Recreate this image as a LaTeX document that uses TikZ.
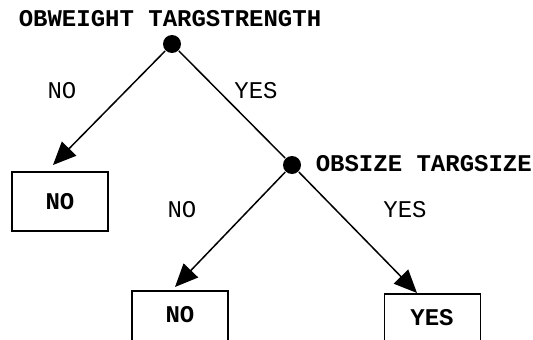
\documentclass[tikz,border=0pt]{standalone}
\usepackage{fontspec}
\setmonofont{Liberation Mono}
\usetikzlibrary{arrows.meta}

\begin{document}
\begin{tikzpicture}[x=1pt,y=-1pt,>={Triangle[length=23pt,width=20pt]},line width=1.5pt,
    font=\ttfamily\fontsize{24}{27}\selectfont,
    test/.style={circle,fill=black,inner sep=0pt,minimum size=18pt},
    leaf/.style={draw,line width=1.8pt,inner sep=0pt,minimum width=96pt,minimum height=59pt,font=\ttfamily\bfseries\fontsize{24}{27}\selectfont},
    answer/.style={inner sep=0pt}]
    \useasboundingbox (0,0) rectangle (533,340);
    \clip (0,0) rectangle (533,340);

    \node[test] (weight) at (172,44) {};
    \node[test] (size) at (292,165) {};
    \node[anchor=base,font=\ttfamily\bfseries\fontsize{24}{27}\selectfont] (weightlbl) at (170,27) {OBWEIGHT TARGSTRENGTH};
    \node[anchor=west,font=\ttfamily\bfseries\fontsize{24}{27}\selectfont,inner sep=0pt] (sizelbl) at (315,164) {OBSIZE TARGSIZE};

    \node[leaf] (no1) at (60,201.5) {NO};
    \node[leaf] (no2) at (180,320.5) {};
    \node[leaf] (yes2) at (432.5,323.5) {};
    \node[font=\ttfamily\bfseries\fontsize{24}{27}\selectfont] (no2txt) at (180,315) {NO};
    \node[font=\ttfamily\bfseries\fontsize{24}{27}\selectfont] (yes2txt) at (432,318) {YES};

    \coordinate (tip1) at (53,165);
    \coordinate (tip2) at (175,287);
    \coordinate (tip3) at (417,293);

    \path[->] (weight) edge (tip1);
    \draw (weight) -- (size);
    \path[->] (size) edge (tip2);
    \path[->] (size) edge (tip3);

    \node[answer] (a1) at (62,91) {NO};
    \node[answer] (a2) at (256,91) {YES};
    \node[answer] (a3) at (182,210) {NO};
    \node[answer] (a4) at (405,210) {YES};
\end{tikzpicture}
\end{document}
